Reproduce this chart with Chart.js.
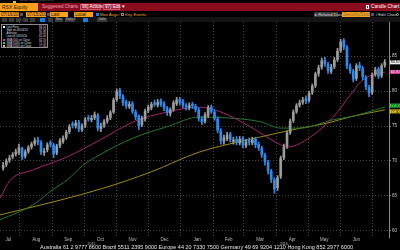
<!DOCTYPE html>
<html><head><meta charset="utf-8">
<script src="https://cdn.jsdelivr.net/npm/chart.js@4.4.0/dist/chart.umd.min.js"></script>
<style>
html,body{margin:0;padding:0;background:#000;width:400px;height:250px;overflow:hidden;font-family:Arial,"Liberation Sans",sans-serif;}
.a{position:absolute;white-space:nowrap;line-height:1;}
.or{position:absolute;background:#f4a11d;color:#1a1000;font-size:4.5px;line-height:6px;height:6px;padding-left:1px;box-sizing:border-box;overflow:hidden;}
.btn{position:absolute;top:17.5px;height:4px;background:#3a3a3a;}
.bl{background:#1f7be0;}
.lg{position:absolute;left:3px;font-size:2.8px;color:#ddd;line-height:3px;white-space:nowrap;}
.lv{position:absolute;left:39px;font-size:2.8px;color:#ddd;line-height:3px;}
.sq{display:inline-block;width:2.4px;height:2.4px;margin-right:1px;vertical-align:top;}
</style></head><body>
<!-- row 0 -->
<div class="a" style="left:0;top:0;width:400px;height:3px;background:#000"></div>
<div class="a" style="left:13px;top:0.5px;width:3px;height:2px;background:#e8c21a"></div>
<div class="a" style="left:20px;top:0;font-size:2.5px;color:#666">Browse  Watch  Settings  Layout</div>
<!-- row 1 -->
<div class="a" style="left:0;top:3px;width:400px;height:8px;background:#8a0c1f"></div>
<div class="a" style="left:0;top:3px;width:38px;height:8px;background:#f4a11d"></div>
<div class="a" style="left:2px;top:5px;font-size:5px;color:#2a1400">RSX Equity</div>
<div class="a" style="left:42px;top:5px;font-size:4.5px;color:#f2a8b4">Suggested Charts</div>
<div class="a" style="left:80px;top:4px;width:21px;height:6px;background:#a8233a;border:0.5px solid #c9566a;box-sizing:border-box"></div>
<div class="a" style="left:82px;top:5px;font-size:4.5px;color:#fff">96) Actions ▾</div>
<div class="a" style="left:103px;top:4px;width:17px;height:6px;background:#a8233a;border:0.5px solid #c9566a;box-sizing:border-box"></div>
<div class="a" style="left:105px;top:5px;font-size:4.5px;color:#fff">97) Edit ▾</div>
<div class="a" style="left:366px;top:5px;width:3px;height:4px;border:0.5px solid #fff;box-sizing:border-box"></div>
<div class="a" style="left:371px;top:5px;font-size:4.8px;color:#fff">Candle Chart</div>
<!-- row 2 -->
<div class="or" style="left:0;top:11.5px;width:19px">07/16/2015</div>
<div class="a" style="left:20px;top:12.5px;width:3px;height:3px;background:#555"></div>
<div class="or" style="left:26px;top:11.5px;width:20px">07/15/2016</div>
<div class="a" style="left:46.5px;top:12.5px;width:3px;height:3px;background:#555"></div>
<div class="or" style="left:50px;top:11.5px;width:18px">Last Price</div>
<div class="or" style="left:74px;top:11.5px;width:19px">Local CCY</div>
<div class="a" style="left:96px;top:12.5px;width:3px;height:3px;background:#1f7be0"></div>
<div class="a" style="left:100px;top:12.5px;font-size:4.2px;color:#f4a11d">Mov Avgs ⁄</div>
<div class="a" style="left:121px;top:12.5px;width:3px;height:3px;border:0.5px solid #888;box-sizing:border-box"></div>
<div class="a" style="left:125px;top:12.5px;font-size:4.2px;color:#f4a11d">Key Events</div>
<div class="a" style="left:314px;top:11.5px;width:24px;height:6px;background:#3a3a3a"></div>
<div class="a" style="left:315px;top:12.5px;font-size:4.2px;color:#ddd">▸ Related Data</div>
<div class="or" style="left:342px;top:11.5px;width:28px;color:#8a6a30">Security/Study</div>
<div class="a" style="left:371px;top:12.5px;width:3px;height:3px;background:#555"></div>
<div class="a" style="left:376px;top:12.5px;font-size:4.2px;color:#ddd">/ Edit Chart</div>
<div class="a" style="left:396px;top:12.5px;width:3px;height:3px;border-radius:50%;border:0.5px solid #aaa;box-sizing:border-box"></div>
<!-- row 3 -->
<div class="a" style="left:0;top:17px;width:400px;height:5px;background:#141414"></div>
<div class="btn" style="left:2px;width:5px"></div>
<div class="btn" style="left:9px;width:5px"></div>
<div class="btn" style="left:16px;width:5px"></div>
<div class="btn" style="left:23px;width:5px"></div>
<div class="btn" style="left:30px;width:5px"></div>
<div class="btn bl" style="left:40px;width:5px"></div>
<div class="btn" style="left:48px;width:5px"></div>
<div class="btn" style="left:55px;width:8px"></div>
<div class="btn" style="left:65px;width:10px"></div>
<div class="btn bl" style="left:83px;width:5px"></div>
<div class="btn" style="left:97px;width:10px"></div>
<div class="a" style="left:56px;top:18px;font-size:3px;color:#bbb">Max</div>
<div class="a" style="left:66px;top:18px;font-size:3px;color:#bbb">Daily ▾</div>
<div class="a" style="left:98.5px;top:18px;font-size:3px;color:#bbb">Table</div>

<canvas id="c" width="400" height="228" style="position:absolute;left:0;top:22px;background:#000"></canvas>

<!-- legend box -->
<div class="a" id="lgbox" style="left:1px;top:24px;width:47px;height:24px;border:0.6px solid #8c8c8c;background:#000;box-sizing:border-box"></div>
<div id="lgrows"></div>

<div class="a" id="foot" style="left:40px;top:244.5px;font-size:5px;color:#e6e6e6;transform-origin:0 0">Australia 61 2 9777 8600 Brazil 5511 2395 9000 Europe 44 20 7330 7500 Germany 49 69 9204 1210 Hong Kong 852 2977 6000</div>

<script>
// ---- data (day 0 = 2015-07-16) ----
const startDate = '2015-07-16';
const days = [0,3,6,9,12,15,18,21,24,27,30,33,36,39,42,45,48,51,54,57,60,63,66,69,72,75,78,81,84,87,90,93,96,99,102,105,108,111,114,117,120,123,126,129,132,135,138,141,144,147,150,153,156,159,162,165,168,171,174,177,180,183,186,189,192,195,198,201,204,207,210,213,216,219,222,225,228,231,234,237,240,243,246,249,252,255,258,261,264,267,270,273,276,279,282,285,288,291,294,297,300,303,306,309,312,315,318,321,324,327,330,333,336,339,342,345,348,351,354,357,360,363];
const opens = [69.0,69.5,70.1,70.6,71.0,71.2,71.8,70.7,71.4,72.0,
 72.5,73.0,72.6,71.2,71.6,72.6,72.3,71.2,72.2,72.8,
 73.4,74.2,75.3,75.0,75.5,74.5,75.1,76.2,75.9,76.2,
 76.5,74.6,75.1,75.7,76.2,77.0,78.8,80.1,79.2,78.4,
 77.8,78.2,77.0,76.4,75.2,76.0,77.2,77.6,78.3,78.0,
 78.6,78.2,77.5,76.8,77.4,78.2,78.8,78.5,77.9,77.6,
 78.1,77.8,77.3,76.0,75.7,76.5,77.7,77.0,76.0,74.3,
 72.8,73.2,73.8,72.8,73.1,72.6,73.2,72.2,72.9,72.6,
 73.1,72.4,71.8,70.8,69.8,68.5,67.3,66.2,67.8,70.5,
 72.1,74.1,75.8,77.1,78.0,78.4,78.9,78.7,79.8,80.8,
 82.5,83.4,84.4,83.8,82.8,83.5,84.5,85.8,87.2,86.2,
 83.5,82.8,81.8,83.7,83.2,81.9,80.5,79.8,82.4,83.1,
 82.2,83.7];
const highs = [69.8,70.3,70.8,71.2,71.7,72.4,72.0,71.6,72.2,72.7,
 73.3,73.4,72.9,71.8,72.6,72.9,72.5,72.4,73.2,73.6,
 74.4,75.2,75.6,75.8,75.8,75.3,76.2,76.5,76.5,77.0,
 76.8,75.4,75.9,76.5,77.2,79.0,80.3,80.4,79.5,78.7,
 78.5,78.5,77.3,76.6,76.4,77.4,78.0,78.4,78.7,78.8,
 78.9,78.5,77.8,77.6,78.6,79.1,79.1,78.8,78.2,78.3,
 78.4,78.1,77.6,76.3,76.9,77.9,78.0,77.3,76.3,74.6,
 73.7,74.1,74.1,73.4,73.5,73.5,73.5,73.1,73.3,73.4,
 73.4,72.7,72.1,71.1,70.1,68.8,67.6,67.9,70.7,72.4,
 74.3,76.0,77.3,78.2,78.7,79.1,79.3,80.0,81.0,82.7,
 83.7,84.7,84.8,84.1,83.8,84.8,86.1,87.4,87.5,86.5,
 83.9,83.1,83.9,84.1,83.5,82.2,80.8,82.6,83.4,83.4,
 83.9,84.5];
const lows = [68.7,69.2,69.8,70.3,70.7,70.9,70.2,70.4,71.1,71.7,
 72.2,72.3,70.9,70.8,71.3,72.0,70.5,70.9,71.9,72.5,
 73.1,73.9,74.7,74.7,74.2,74.2,74.8,75.7,75.6,75.9,
 74.3,74.2,74.8,75.4,75.9,76.8,78.5,78.9,77.9,77.5,
 77.5,76.8,75.9,74.5,74.9,75.7,76.9,77.3,77.8,77.7,
 77.8,77.2,76.5,76.4,77.1,77.9,78.0,77.6,77.3,77.3,
 77.5,77.0,75.7,75.2,75.4,76.2,76.8,75.8,74.0,72.4,
 72.4,72.9,72.7,72.4,72.3,72.3,71.9,71.9,72.3,72.3,
 71.9,71.5,70.5,69.4,68.1,66.9,65.4,65.8,67.5,70.2,
 71.8,73.8,75.5,76.8,77.7,78.1,78.2,78.4,79.5,80.5,
 82.1,83.1,83.5,82.5,82.5,83.2,84.2,85.5,85.9,83.2,
 82.5,81.3,81.5,82.9,81.6,80.2,79.2,79.5,82.1,81.8,
 81.9,83.4];
const closes = [69.4,70.0,70.4,70.9,71.3,71.9,70.6,71.3,71.9,72.4,
 72.9,72.7,71.3,71.4,72.3,72.4,71.0,72.1,72.9,73.3,
 74.1,74.9,75.1,75.4,74.6,75.0,75.9,76.0,76.1,76.6,
 74.7,75.0,75.6,76.1,76.9,78.7,79.9,79.3,78.3,77.9,
 78.1,77.1,76.3,75.0,76.1,77.1,77.7,78.1,78.1,78.4,
 78.1,77.6,76.9,77.3,78.3,78.7,78.4,78.0,77.7,77.9,
 77.9,77.4,76.1,75.6,76.6,77.6,77.1,76.1,74.4,72.9,
 73.3,73.7,73.1,73.0,72.7,73.1,72.3,72.7,72.7,73.0,
 72.3,71.9,70.9,69.9,68.6,67.4,66.0,67.6,70.4,72.0,
 74.0,75.7,77.0,77.9,78.3,78.7,78.6,79.7,80.7,82.4,
 83.3,84.3,83.9,82.9,83.4,84.4,85.7,87.0,86.3,83.6,
 82.9,81.7,83.6,83.3,82.0,80.6,79.7,82.3,83.0,82.1,
 83.6,84.1];
const ma50Days = [-3,7,28,61,92,124,156,187,207,235,264,271,292,314,330,340,351,363];
const ma50     = [64.7,67.3,68.7,70.6,73.0,75.6,77.0,77.7,77.0,74.9,72.3,72.0,73.4,76.3,79.4,81.3,82.3,82.7];
const ma100Days = [-3,28,47,61,76,92,124,156,187,219,245,264,283,314,330,363];
const ma100     = [61.6,63.7,65.9,67.3,69.4,70.9,73.3,74.9,76.3,76.1,75.6,74.7,74.7,75.9,76.3,77.7];
const ma200Days = [-3,54,95,140,187,235,283,308,330,363];
const ma200     = [62.3,64.4,66.1,68.4,71.3,73.1,74.7,75.4,76.3,77.3];
const monthStarts = [16,47,77,108,138,169,200,229,260,290,321,351];
const monthMids   = [5,31.5,62,92.5,123,153.5,184.5,214.5,244.5,275,305.5,336];
const monthLabels = ['Jul','Aug','Sep','Oct','Nov','Dec','Jan','Feb','Mar','Apr','May','Jun'];
const yearMids   = [84,267];
const yearLabels = ['2015','2016'];
const yTicks = [60,65,70,75,80,85];
const seriesNames = ['Last Price','High on','Average','Low on','SMA (50) on Close','SMA (100) on Close','SMA (200) on Close'];

// ---- colors ----
const UP = '#9c9c9c', DOWN = '#2a8cf0';
const C50 = '#a3246d', C100 = '#24762e', C200 = '#9c8a12';
const candleColor = ctx => closes[ctx.dataIndex] >= opens[ctx.dataIndex] ? UP : DOWN;

const wickData = days.map((d,i)=>({x:d, y:[lows[i], highs[i]]}));
const bodyData = days.map((d,i)=>({x:d, y:[opens[i], closes[i]]}));
const line = (ds, vs) => ds.map((d,i)=>({x:d, y:vs[i]}));

// ---- legend box (html text) ----
function dateOf(d){ const t = new Date(startDate+'T00:00:00Z'); t.setUTCDate(t.getUTCDate()+d);
  const p=n=>String(n).padStart(2,'0'); return p(t.getUTCMonth()+1)+'/'+p(t.getUTCDate())+'/'+String(t.getUTCFullYear()).slice(2); }
const hiIdx = highs.indexOf(Math.max(...highs)), loIdx = lows.indexOf(Math.min(...lows));
const avg = closes.reduce((a,b)=>a+b,0)/closes.length;
const rows = [
  {n: seriesNames[0], v: closes[closes.length-1], c:'#fff'},
  {n: seriesNames[1]+' '+dateOf(days[hiIdx]), v: highs[hiIdx]},
  {n: seriesNames[2], v: avg},
  {n: seriesNames[3]+' '+dateOf(days[loIdx]), v: lows[loIdx]},
  {n: seriesNames[4], v: ma50[ma50.length-1], c:'#e0339a'},
  {n: seriesNames[5], v: ma100[ma100.length-1], c:'#2cc83e'},
  {n: seriesNames[6], v: ma200[ma200.length-1], c:'#e6c21a'}
];
const tops = [25.5,28.5,31.5,34.5,39,42,45];
let h='';
rows.forEach((r,i)=>{
  h += `<div class="lg" style="top:${tops[i]}px">${r.c?`<span class="sq" style="background:${r.c}"></span>`:'<span class="sq"></span>'}${r.n}</div>`;
  h += `<div class="lv" style="top:${tops[i]}px">${r.v.toFixed(2)}</div>`;
});
document.getElementById('lgrows').innerHTML = h;

// fit footer
const f = document.getElementById('foot');
f.style.transform = 'scaleX(' + (313 / f.getBoundingClientRect().width) + ')';

// ---- value tags on right axis ----
const tagPlugin = {
  id: 'tags',
  afterDraw(chart){
    const {ctx, chartArea, scales:{y}} = chart;
    const tags = [
      {v: ma200[ma200.length-1], bg:'#dcc21e', fg:'#000', dy: 1.5},
      {v: ma100[ma100.length-1], bg:'#33c544', fg:'#000', dy: -1.5},
      {v: ma50[ma50.length-1], bg:'#d4308c', fg:'#fff', dy: 0},
      {v: closes[closes.length-1], bg:'#f0f0f0', fg:'#000', dy: 0}
    ];
    ctx.save();
    tags.forEach(t=>{
      const py = y.getPixelForValue(t.v) + t.dy;
      ctx.fillStyle = t.bg;
      ctx.fillRect(chartArea.right + 1, py - 2, 10, 4);
      ctx.fillStyle = t.fg;
      ctx.font = '3.5px Arial';
      ctx.textBaseline = 'middle';
      ctx.fillText(t.v.toFixed(2), chartArea.right + 1.8, py + 0.2);
    });
    ctx.restore();
  }
};

const noPad = s => { s.paddingTop = 0; s.paddingBottom = 0; s.paddingLeft = 0; s.paddingRight = 0; };
const gridCol = '#454545';
new Chart(document.getElementById('c'), {
  type: 'bar',
  data: {
    datasets: [
      {type:'bar', data: bodyData, backgroundColor: candleColor, barThickness: 2, minBarLength: 1, grouped: false, order: 0, xAxisID:'x', yAxisID:'y'},
      {type:'bar', data: wickData, backgroundColor: candleColor, barThickness: 1, grouped: false, order: 1, xAxisID:'x', yAxisID:'y'},
      {type:'line', data: line(ma50Days, ma50), borderColor: C50, borderWidth: 1, pointRadius: 0, cubicInterpolationMode:'monotone', order: 2, xAxisID:'x', yAxisID:'y'},
      {type:'line', data: line(ma100Days, ma100), borderColor: C100, borderWidth: 1, pointRadius: 0, cubicInterpolationMode:'monotone', order: 3, xAxisID:'x', yAxisID:'y'},
      {type:'line', data: line(ma200Days, ma200), borderColor: C200, borderWidth: 1, pointRadius: 0, cubicInterpolationMode:'monotone', order: 4, xAxisID:'x', yAxisID:'y'}
    ]
  },
  options: {
    responsive: false, animation: false,
    layout: {padding: 0},
    plugins: {legend: {display: false}, tooltip: {enabled: false}},
    scales: {
      x: {type:'linear', min:-3, max:367, position:'bottom', weight: 0, offset: false,
          grid: {color: gridCol, drawTicks: false, lineWidth: 1, offset: false},
          border: {display: false, dash: [1,2]},
          ticks: {display: false},
          afterBuildTicks: s => { s.ticks = monthStarts.map(v=>({value:v})); },
          afterFit: s => { s.height = 0; noPad(s); }},
      xm: {type:'linear', min:-3, max:367, position:'bottom', weight: 1, offset: false,
          grid: {display: false, drawTicks: false, offset: false}, border: {display: false},
          ticks: {color:'#bdbdbd', font:{size:4.5}, padding: 0.5, maxRotation: 0, autoSkip: false,
                  callback: (v,i) => monthLabels[i]},
          afterBuildTicks: s => { s.ticks = monthMids.map(v=>({value:v})); },
          afterFit: s => { s.height = 5; noPad(s); }},
      xy: {type:'linear', min:-3, max:367, position:'bottom', weight: 2, offset: false,
          grid: {display: false, drawTicks: false, offset: false}, border: {display: false},
          ticks: {color:'#bdbdbd', font:{size:3.5}, padding: 0, maxRotation: 0, autoSkip: false,
                  callback: (v,i) => yearLabels[i]},
          afterBuildTicks: s => { s.ticks = yearMids.map(v=>({value:v})); },
          afterFit: s => { s.height = 8; noPad(s); }},
      y: {type:'linear', position:'right', min: 59.14, max: 89.86,
          grid: {color: gridCol, drawTicks: true, tickLength: 2, tickColor:'#888'},
          border: {display: true, color:'#8a8a8a', dash: [1,2]},
          ticks: {color:'#c8c8c8', font:{size:4.5}, padding: 1, callback: v => String(v)},
          afterBuildTicks: s => { s.ticks = yTicks.map(v=>({value:v})); },
          afterFit: s => { s.width = 11; noPad(s); }}
    }
  },
  plugins: [tagPlugin]
});
</script>
</body></html>
